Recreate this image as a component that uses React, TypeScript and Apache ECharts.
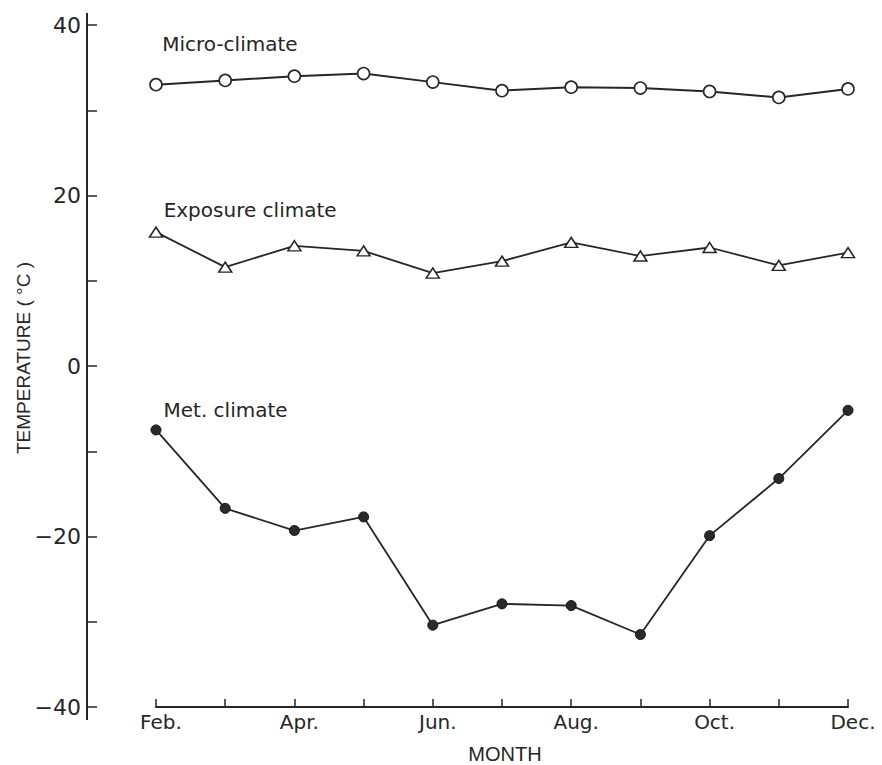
import React, { useEffect, useRef } from "react";
import * as echarts from "echarts";

// Months on the horizontal axis (labels shown every second month)
const months = ["Feb.", "Mar.", "Apr.", "May", "Jun.", "Jul.", "Aug.", "Sep.", "Oct.", "Nov.", "Dec."];
const shownMonths = ["Feb.", "Apr.", "Jun.", "Aug.", "Oct.", "Dec."];

// Monthly mean temperatures (°C)
const microClimate = [33.0, 33.5, 34.0, 34.3, 33.3, 32.3, 32.7, 32.6, 32.2, 31.5, 32.5];
const exposureClimate = [15.7, 11.6, 14.1, 13.5, 10.9, 12.3, 14.5, 12.9, 13.9, 11.8, 13.3];
const metClimate = [-7.5, -16.7, -19.3, -17.7, -30.4, -27.9, -28.1, -31.5, -19.9, -13.2, -5.2];

// Temperature axis
const yMin = -40;
const yMax = 40;
const yStep = 10;
const yLabelled = [-40, -20, 0, 20, 40];

const seriesNames = ["Micro-climate", "Exposure climate", "Met. climate"];

const INK = "#262626";
const FONT = "'DejaVu Sans', 'Open Sans', sans-serif";
const TITLE_FONT = "'Liberation Sans', Arial, sans-serif";

const WIDTH = 882;
const HEIGHT = 765;
const GRID = { left: 156, right: 34, top: 25, bottom: 58 };
const Y_OFFSET = 69;

export default function App() {
  const ref = useRef<HTMLDivElement>(null);

  useEffect(() => {
    if (!ref.current) return;
    const chart = echarts.init(ref.current, null, { renderer: "svg" });

    const firstLabel = (name: string, dx: number, dy: number) => ({
      show: true,
      formatter: name,
      position: [dx, dy],
      align: "left",
      verticalAlign: "middle",
      color: INK,
      fontFamily: FONT,
      fontSize: 20,
    });

    const withLabel = (values: number[], name: string, dx: number, dy: number) =>
      values.map((v, i) => (i === 0 ? { value: v, label: firstLabel(name, dx, dy) } : v));

    chart.setOption({
      animation: false,
      backgroundColor: "#ffffff",
      grid: { ...GRID, containLabel: false },
      xAxis: {
        type: "category",
        data: months,
        boundaryGap: false,
        axisLine: { show: true, onZero: false, lineStyle: { color: INK, width: 2 } },
        axisTick: { show: true, inside: true, length: 8, lineStyle: { color: INK, width: 1.5 } },
        axisLabel: {
          interval: 0,
          margin: 5,
          color: INK,
          fontFamily: FONT,
          fontSize: 20,
          padding: [0, 0, 0, 10],
          formatter: (v: string) => (shownMonths.includes(v) ? v : ""),
        },
        splitLine: { show: false },
      },
      yAxis: {
        type: "value",
        min: yMin,
        max: yMax,
        interval: yStep,
        offset: Y_OFFSET,
        axisLine: { show: true, lineStyle: { color: INK, width: 2 } },
        axisTick: { show: true, inside: true, length: 10, lineStyle: { color: INK, width: 1.5 } },
        axisLabel: {
          margin: 6,
          color: INK,
          fontFamily: FONT,
          fontSize: 22,
          formatter: (v: number) =>
            yLabelled.includes(v) ? (v < 0 ? "\u2212" + Math.abs(v) : String(v)) : "",
        },
        splitLine: { show: false },
      },
      series: [
        {
          name: seriesNames[0],
          type: "line",
          data: withLabel(microClimate, seriesNames[0], 13, -34),
          symbol: "circle",
          symbolSize: 12,
          itemStyle: { color: "#ffffff", borderColor: INK, borderWidth: 1.6 },
          lineStyle: { color: INK, width: 2 },
        },
        {
          name: seriesNames[1],
          type: "line",
          data: withLabel(exposureClimate, seriesNames[1], 15, -16),
          symbol: "triangle",
          symbolSize: [13, 10],
          itemStyle: { color: "#ffffff", borderColor: INK, borderWidth: 1.5 },
          lineStyle: { color: INK, width: 1.8 },
        },
        {
          name: seriesNames[2],
          type: "line",
          data: withLabel(metClimate, seriesNames[2], 13, -14),
          symbol: "circle",
          symbolSize: 10,
          itemStyle: { color: "#2a2a2a", borderColor: "#111", borderWidth: 1 },
          lineStyle: { color: INK, width: 1.8 },
        },
      ],
    });

    // Extend the temperature axis line slightly past its end ticks, and add the axis titles
    const yTop = chart.convertToPixel({ yAxisIndex: 0 }, yMax) as number;
    const yBottom = chart.convertToPixel({ yAxisIndex: 0 }, yMin) as number;
    const axisXPos = GRID.left - Y_OFFSET;
    const plotCenterX = (GRID.left + (WIDTH - GRID.right)) / 2;

    chart.setOption({
      graphic: [
        {
          type: "line",
          shape: { x1: axisXPos, y1: yTop - 12, x2: axisXPos, y2: yTop },
          style: { stroke: INK, lineWidth: 2 },
        },
        {
          type: "line",
          shape: { x1: axisXPos, y1: yBottom, x2: axisXPos, y2: yBottom + 13 },
          style: { stroke: INK, lineWidth: 2 },
        },
        {
          type: "text",
          x: 23,
          y: 358,
          rotation: Math.PI / 2,
          style: {
            text: "TEMPERATURE ( °C )",
            align: "center",
            verticalAlign: "middle",
            fill: INK,
            fontFamily: TITLE_FONT,
            fontSize: 19,
          },
        },
        {
          type: "text",
          x: plotCenterX + 3,
          y: 754,
          style: {
            text: "MONTH",
            align: "center",
            verticalAlign: "middle",
            fill: INK,
            fontFamily: TITLE_FONT,
            fontSize: 20,
          },
        },
      ],
    });

    return () => chart.dispose();
  }, []);

  return (
    <div
      ref={ref}
      style={{ position: "fixed", left: 0, top: 0, width: WIDTH, height: HEIGHT }}
    />
  );
}
